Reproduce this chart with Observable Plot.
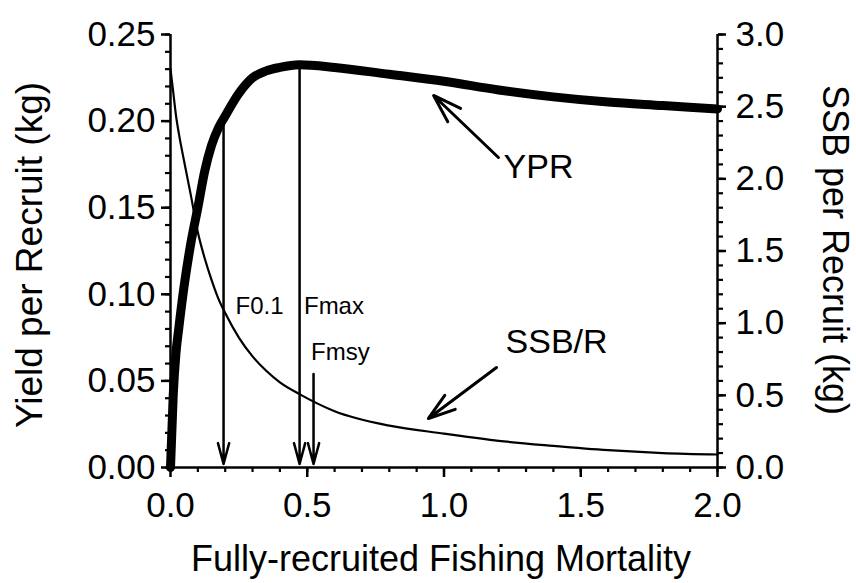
<!DOCTYPE html>
<html>
<head>
<meta charset="utf-8">
<script src="https://cdn.jsdelivr.net/npm/d3@7"></script>
<script src="https://cdn.jsdelivr.net/npm/@observablehq/plot@0.6"></script>
<style>
  html, body { margin: 0; padding: 0; background: white; }
</style>
</head>
<body>
<div id="chart"></div>
<script>
// Fishing mortality (x) values
const F = [0, 0.01, 0.02, 0.03, 0.05, 0.075, 0.1, 0.125, 0.15, 0.175, 0.2, 0.25, 0.3, 0.35, 0.4, 0.47, 0.6, 0.8, 1.0, 1.2, 1.4, 1.6, 1.8, 2.0];
// Yield per recruit (kg), left axis
const YPR = [0, 0.042, 0.066, 0.08, 0.105, 0.13, 0.15, 0.171, 0.186, 0.196, 0.203, 0.216, 0.225, 0.229, 0.231, 0.2325, 0.231, 0.227, 0.223, 0.218, 0.214, 0.211, 0.209, 0.207];
// SSB per recruit (kg), right axis
const SSBR = [2.76, 2.6, 2.44, 2.32, 2.12, 1.88, 1.63, 1.45, 1.3, 1.17, 1.07, 0.9, 0.77, 0.67, 0.59, 0.51, 0.39, 0.29, 0.235, 0.185, 0.15, 0.12, 0.10, 0.09];

// Reference points
const refNames = ["F0.1", "Fmax", "Fmsy"];
const refF = [0.194, 0.472, 0.523];
const refTop = [0.201, 0.2325, 0.054];   // left-axis units, where each arrow starts
const refLabelY = [0.093, 0.093, 0.0665];
const refLabelF = [0.238, 0.488, 0.514];

// Tick labels
const xTicks = [0, 0.5, 1.0, 1.5, 2.0];
const yLeftTicks = [0, 0.05, 0.10, 0.15, 0.20, 0.25];
const yRightTicks = [0, 0.5, 1.0, 1.5, 2.0, 2.5, 3.0];
const xMinor = d3.range(21).map(i => i / 10);
const yLeftMinor = d3.range(26).map(i => i / 100);
const yRightMinor = d3.range(31).map(i => i / 10);

// Curve labels
const curveLabels = ["YPR", "SSB/R"];
const curveLabelF = [1.218, 1.225];
const curveLabelY = [0.1735, 0.0722];
const pointerTailF = [1.199, 1.192];
const pointerTailY = [0.179, 0.0577];
const pointerHeadF = [0.962, 0.943];
const pointerHeadY = [0.2148, 0.0283];

const ratio = 0.25 / 3; // right axis -> left axis units

const curves = F.map((f, i) => ({F: f, ypr: YPR[i], ssb: SSBR[i] * ratio}));
const refs = refNames.map((n, i) => ({name: n, F: refF[i], top: refTop[i], lx: refLabelF[i], ly: refLabelY[i]}));
const labels = curveLabels.map((n, i) => ({
  name: n, x: curveLabelF[i], y: curveLabelY[i],
  x1: pointerTailF[i], y1: pointerTailY[i], x2: pointerHeadF[i], y2: pointerHeadY[i]
}));

const font = "'Liberation Sans', Arial, Helvetica, sans-serif";

const plot = Plot.plot({
  width: 856,
  height: 583,
  marginLeft: 170,
  marginRight: 139,
  marginTop: 34,
  marginBottom: 116,
  style: {fontFamily: font, fontSize: "35px", background: "white", color: "black"},
  x: {domain: [0, 2], label: null},
  y: {domain: [0, 0.25], label: null},
  marks: [
    // minor ticks
    Plot.axisX({ticks: xMinor, tickSize: 5, tickFormat: () => "", strokeWidth: 2.2, strokeOpacity: 1, label: null}),
    Plot.axisY({anchor: "left", ticks: yLeftMinor, tickSize: 5, tickFormat: () => "", strokeWidth: 2.2, strokeOpacity: 1, label: null}),
    Plot.axisY({anchor: "right", ticks: yRightMinor.map(v => v * ratio), tickSize: 5, tickFormat: () => "", strokeWidth: 2.2, strokeOpacity: 1, label: null}),
    // major ticks + labels
    Plot.axisX({ticks: xTicks, tickSize: 10, tickPadding: 15, tickFormat: d => d.toFixed(1), strokeWidth: 2.5, strokeOpacity: 1, fontSize: 35, label: null}),
    Plot.axisY({anchor: "left", ticks: yLeftTicks, tickSize: 9, tickPadding: 6, tickFormat: d => d.toFixed(2), strokeWidth: 2.5, strokeOpacity: 1, fontSize: 35, label: null}),
    Plot.axisY({anchor: "right", ticks: yRightTicks.map(v => v * ratio), tickSize: 8, tickPadding: 10, tickFormat: d => (d / ratio).toFixed(1), strokeWidth: 2.5, strokeOpacity: 1, fontSize: 35, label: null}),
    // axis lines
    Plot.ruleX([0, 2], {y1: 0, y2: 0.25, strokeWidth: 2.5}),
    Plot.ruleY([0], {x1: 0, x2: 2, strokeWidth: 2.5}),
    // curves
    Plot.line(curves, {x: "F", y: "ssb", strokeWidth: 2.2, curve: "monotone-x"}),
    Plot.line(curves, {x: "F", y: "ypr", strokeWidth: 9, curve: "monotone-x"}),
    // reference arrows
    Plot.arrow(refs, {x1: "F", x2: "F", y1: "top", y2: 0.002, strokeWidth: 2.5, headLength: 13, headAngle: 30}),
    Plot.text(refs, {x: "lx", y: "ly", text: "name", textAnchor: "start", fontSize: 24}),
    // curve labels + pointers
    Plot.arrow(labels, {x1: "x1", y1: "y1", x2: "x2", y2: "y2", strokeWidth: 3, headLength: 15, headAngle: 36}),
    Plot.text(labels, {x: "x", y: "y", text: "name", textAnchor: "start", fontSize: 34})
  ]
});

document.getElementById("chart").appendChild(plot);

const svg = d3.select(plot);
svg.append("text")
  .attr("transform", "translate(42,255) rotate(-90)")
  .attr("text-anchor", "middle")
  .attr("font-family", font)
  .attr("font-size", 37)
  .attr("fill", "black")
  .text("Yield per Recruit (kg)");
svg.append("text")
  .attr("transform", "translate(823,250) rotate(90)")
  .attr("text-anchor", "middle")
  .attr("font-family", font)
  .attr("font-size", 36)
  .attr("fill", "black")
  .text("SSB per Recruit (kg)");
svg.append("text")
  .attr("x", 441)
  .attr("y", 571)
  .attr("text-anchor", "middle")
  .attr("font-family", font)
  .attr("font-size", 36)
  .attr("fill", "black")
  .text("Fully-recruited Fishing Mortality");
</script>
</body>
</html>
